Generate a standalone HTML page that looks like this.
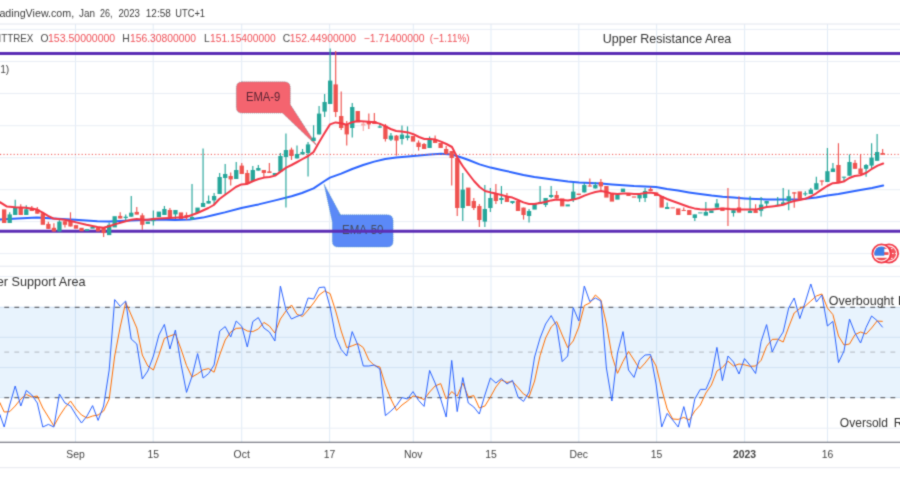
<!DOCTYPE html>
<html><head><meta charset="utf-8"><title>Chart</title>
<style>
html,body{margin:0;padding:0;background:#fff;}
body{width:900px;height:500px;overflow:hidden;font-family:"Liberation Sans",sans-serif;}
svg{display:block;}
text{font-family:"Liberation Sans",sans-serif;}
</style></head><body>
<svg width="900" height="500" viewBox="0 0 900 500">
<defs><filter id="bl" color-interpolation-filters="sRGB" x="0" y="0" width="900" height="500" filterUnits="userSpaceOnUse"><feConvolveMatrix order="3" kernelMatrix="0.03 0.1 0.03 0.1 0.48 0.1 0.03 0.1 0.03" divisor="1" edgeMode="duplicate" preserveAlpha="true"/></filter></defs>
<g filter="url(#bl)">
<rect x="0" y="0" width="900" height="500" fill="#ffffff"/>

<rect x="0" y="307.3" width="900" height="90.3" fill="#e8f3fd"/>
<g stroke="#7aa8d6" stroke-opacity="0.23" stroke-width="1" fill="none">
<line x1="75.5" y1="24" x2="75.5" y2="442"/>
<line x1="153.2" y1="24" x2="153.2" y2="442"/>
<line x1="241.7" y1="24" x2="241.7" y2="442"/>
<line x1="329.6" y1="24" x2="329.6" y2="442"/>
<line x1="413.3" y1="24" x2="413.3" y2="442"/>
<line x1="491" y1="24" x2="491" y2="442"/>
<line x1="578.8" y1="24" x2="578.8" y2="442"/>
<line x1="656.6" y1="24" x2="656.6" y2="442"/>
<line x1="744.6" y1="24" x2="744.6" y2="442"/>
<line x1="827.5" y1="24" x2="827.5" y2="442"/>
</g>
<g stroke="#e9eef5" stroke-width="1" fill="none">
<line x1="0" y1="29.4" x2="900" y2="29.4"/>
<line x1="0" y1="61.5" x2="900" y2="61.5"/>
<line x1="0" y1="93.5" x2="900" y2="93.5"/>
<line x1="0" y1="125.7" x2="900" y2="125.7"/>
<line x1="0" y1="157.7" x2="900" y2="157.7"/>
<line x1="0" y1="189.7" x2="900" y2="189.7"/>
<line x1="0" y1="221.6" x2="900" y2="221.6"/>
<line x1="0" y1="253.6" x2="900" y2="253.6"/>
</g>
<g stroke="#d3e4f4" stroke-width="1" fill="none">
<line x1="0" y1="276.6" x2="900" y2="276.6" stroke="#e9eef5"/>
<line x1="0" y1="307.3" x2="900" y2="307.3" stroke="#d0e2f3"/>
<line x1="0" y1="337.3" x2="900" y2="337.3" stroke="#d0e2f3"/>
<line x1="0" y1="367.6" x2="900" y2="367.6" stroke="#d0e2f3"/>
<line x1="0" y1="397.6" x2="900" y2="397.6" stroke="#d0e2f3"/>
<line x1="0" y1="428.2" x2="900" y2="428.2" stroke="#e9eef5"/>
</g>
<line x1="0" y1="24" x2="900" y2="24" stroke="#e3e6ee" stroke-width="1"/>
<line x1="0" y1="266.2" x2="900" y2="266.2" stroke="#e3e6ee" stroke-width="1"/>
<line x1="0" y1="467.7" x2="900" y2="467.7" stroke="#e6e8ee" stroke-width="1"/>
<line x1="0" y1="442.3" x2="900" y2="442.3" stroke="#5a5d68" stroke-width="1.1"/>
<line x1="4.3" y1="307.3" x2="900" y2="307.3" stroke="#666a72" stroke-width="1.2" stroke-dasharray="4.8 5.27"/>
<line x1="4.3" y1="397.6" x2="900" y2="397.6" stroke="#666a72" stroke-width="1.2" stroke-dasharray="4.8 5.27"/>
<line x1="4.3" y1="352.2" x2="900" y2="352.2" stroke="#bcc3cc" stroke-width="1.2" stroke-dasharray="4.8 5.27"/>
<path d="M338,214.8 L387.1,214.8 Q393.1,214.8 393.1,220.8 L393.1,241 Q393.1,247 387.1,247 L338.3,247 Q332.3,247 332.3,241 L332.3,222 L324,184 L340.5,214.8 Z" fill="#5b89f7" stroke="#4f9bb0" stroke-width="0.6" stroke-dasharray="1 1"/>
<text x="342" y="234.3" font-size="12.3" fill="#454b5e" textLength="41.5" lengthAdjust="spacingAndGlyphs">EMA-50</text>
<path d="M242.3,81.8 L284.3,81.8 Q290.3,81.8 290.3,87.8 L290.3,104.5 L317.5,146.5 L282.5,113.1 L242.3,113.1 Q236.3,113.1 236.3,107.1 L236.3,87.8 Q236.3,81.8 242.3,81.8 Z" fill="#f4646f" stroke="#5f8f99" stroke-width="0.6" stroke-dasharray="1 1"/>
<text x="246" y="101.2" font-size="12.3" fill="#5b2433" textLength="34.3" lengthAdjust="spacingAndGlyphs">EMA-9</text>
<line x1="0" y1="53.5" x2="900" y2="53.5" stroke="#5b2db5" stroke-width="3"/>
<line x1="0" y1="231.3" x2="900" y2="231.3" stroke="#5b2db5" stroke-width="3"/>
<path d="M-2.0,219.4 L0.0,219.4 L17.8,218.5 L37.0,217.6 L53.3,218.5 L75.2,219.8 L97.4,221.2 L109.0,221.6 L125.7,220.8 L142.0,220.0 L158.0,219.6 L175.0,220.0 L190.0,219.6 L202.8,217.6 L213.8,215.0 L224.8,212.4 L241.4,208.0 L258.6,204.4 L275.2,200.4 L291.6,196.2 L302.0,193.0 L313.6,188.4 L324.6,181.0 L330.0,177.6 L341.2,173.6 L352.2,169.0 L363.2,165.0 L374.2,161.6 L385.2,159.0 L396.2,157.6 L408.0,156.4 L419.0,155.6 L430.0,154.4 L441.0,153.8 L452.0,154.6 L457.6,156.2 L463.0,158.0 L468.6,160.0 L479.6,164.4 L490.6,167.6 L501.4,170.0 L512.4,172.4 L523.4,175.0 L534.4,177.0 L545.4,178.4 L556.4,180.0 L568.0,181.6 L579.0,182.6 L590.0,183.0 L601.0,183.4 L612.0,184.4 L623.0,185.2 L634.0,186.0 L645.0,186.4 L656.0,187.0 L667.0,189.0 L678.0,190.6 L689.0,192.4 L700.0,194.0 L711.6,195.6 L722.6,196.8 L733.6,197.6 L744.6,198.4 L755.6,199.0 L766.6,199.4 L777.6,199.6 L788.8,199.5 L799.6,199.2 L805.0,198.8 L816.3,197.6 L827.2,195.5 L838.4,194.0 L849.3,192.0 L860.3,190.0 L872.0,188.0 L883.2,185.6" fill="none" stroke="#2962ff" stroke-width="2" stroke-linejoin="round" stroke-linecap="round"/>
<line x1="0" y1="154.4" x2="900" y2="154.4" stroke="#ef5350" stroke-width="1" stroke-dasharray="1.2 2.2"/>
<g>
<rect x="2.02" y="209.3" width="4.3" height="13.70" fill="#ef5350"/>
<line x1="9.70" y1="212.3" x2="9.70" y2="223" stroke="#26a69a" stroke-width="1.15"/>
<rect x="7.55" y="214.4" width="4.3" height="8.60" fill="#26a69a"/>
<line x1="15.22" y1="199.8" x2="15.22" y2="215" stroke="#26a69a" stroke-width="1.15"/>
<rect x="13.07" y="207.8" width="4.3" height="7.20" fill="#26a69a"/>
<line x1="20.75" y1="204.3" x2="20.75" y2="215" stroke="#ef5350" stroke-width="1.15"/>
<rect x="18.60" y="207.3" width="4.3" height="7.70" fill="#ef5350"/>
<line x1="26.27" y1="205.2" x2="26.27" y2="215" stroke="#26a69a" stroke-width="1.15"/>
<rect x="24.12" y="209.3" width="4.3" height="5.70" fill="#26a69a"/>
<line x1="31.80" y1="206" x2="31.80" y2="211" stroke="#ef5350" stroke-width="1.15"/>
<rect x="29.65" y="207.8" width="4.3" height="3.20" fill="#ef5350"/>
<line x1="37.32" y1="207" x2="37.32" y2="213.7" stroke="#ef5350" stroke-width="1.15"/>
<rect x="35.17" y="209.3" width="4.3" height="4.40" fill="#ef5350"/>
<rect x="40.70" y="213.2" width="4.3" height="11.60" fill="#ef5350"/>
<line x1="48.38" y1="221.7" x2="48.38" y2="228.9" stroke="#ef5350" stroke-width="1.15"/>
<rect x="46.23" y="223.9" width="4.3" height="5.00" fill="#ef5350"/>
<line x1="53.90" y1="223.3" x2="53.90" y2="231.5" stroke="#ef5350" stroke-width="1.15"/>
<rect x="51.75" y="227.8" width="4.3" height="3.70" fill="#ef5350"/>
<line x1="59.42" y1="220.3" x2="59.42" y2="231.5" stroke="#26a69a" stroke-width="1.15"/>
<rect x="57.27" y="221.6" width="4.3" height="9.90" fill="#26a69a"/>
<line x1="64.95" y1="221.2" x2="64.95" y2="227.4" stroke="#ef5350" stroke-width="1.15"/>
<rect x="62.80" y="221.2" width="4.3" height="3.60" fill="#ef5350"/>
<line x1="70.47" y1="212.3" x2="70.47" y2="226.5" stroke="#ef5350" stroke-width="1.15"/>
<rect x="68.32" y="220.8" width="4.3" height="5.70" fill="#ef5350"/>
<rect x="73.85" y="225.1" width="4.3" height="3.60" fill="#ef5350"/>
<rect x="79.38" y="227.8" width="4.3" height="3.40" fill="#ef5350"/>
<rect x="84.90" y="229.2" width="4.3" height="1.80" fill="#26a69a"/>
<rect x="90.42" y="226.9" width="4.3" height="1.80" fill="#26a69a"/>
<rect x="95.95" y="227.8" width="4.3" height="3.70" fill="#ef5350"/>
<line x1="103.62" y1="227.8" x2="103.62" y2="236.9" stroke="#ef5350" stroke-width="1.15"/>
<rect x="101.47" y="227.8" width="4.3" height="5.30" fill="#ef5350"/>
<line x1="109.15" y1="222.6" x2="109.15" y2="235.1" stroke="#26a69a" stroke-width="1.15"/>
<rect x="107.00" y="224.8" width="4.3" height="10.30" fill="#26a69a"/>
<rect x="112.53" y="216.2" width="4.3" height="11.20" fill="#26a69a"/>
<line x1="120.20" y1="212.3" x2="120.20" y2="218.5" stroke="#ef5350" stroke-width="1.15"/>
<rect x="118.05" y="215.9" width="4.3" height="2.60" fill="#ef5350"/>
<line x1="125.72" y1="214.4" x2="125.72" y2="220.3" stroke="#26a69a" stroke-width="1.15"/>
<rect x="123.57" y="216.7" width="4.3" height="1.30" fill="#26a69a"/>
<line x1="131.25" y1="195.9" x2="131.25" y2="216.7" stroke="#26a69a" stroke-width="1.15"/>
<rect x="129.10" y="212.7" width="4.3" height="4.00" fill="#26a69a"/>
<line x1="136.78" y1="207" x2="136.78" y2="214.6" stroke="#ef5350" stroke-width="1.15"/>
<rect x="134.62" y="211.9" width="4.3" height="2.70" fill="#ef5350"/>
<line x1="142.30" y1="213.2" x2="142.30" y2="229.7" stroke="#ef5350" stroke-width="1.15"/>
<rect x="140.15" y="215.3" width="4.3" height="9.50" fill="#ef5350"/>
<rect x="145.67" y="221.6" width="4.3" height="2.30" fill="#26a69a"/>
<line x1="153.35" y1="210.5" x2="153.35" y2="225.6" stroke="#26a69a" stroke-width="1.15"/>
<rect x="151.20" y="218.2" width="4.3" height="3.00" fill="#26a69a"/>
<rect x="156.72" y="211.6" width="4.3" height="5.40" fill="#26a69a"/>
<line x1="164.40" y1="206" x2="164.40" y2="215" stroke="#26a69a" stroke-width="1.15"/>
<rect x="162.25" y="209" width="4.3" height="6.00" fill="#26a69a"/>
<line x1="169.93" y1="208" x2="169.93" y2="217" stroke="#ef5350" stroke-width="1.15"/>
<rect x="167.78" y="210" width="4.3" height="7.00" fill="#ef5350"/>
<line x1="175.45" y1="210" x2="175.45" y2="219" stroke="#26a69a" stroke-width="1.15"/>
<rect x="173.30" y="210" width="4.3" height="4.40" fill="#26a69a"/>
<rect x="178.83" y="212.4" width="4.3" height="6.60" fill="#ef5350"/>
<line x1="186.50" y1="212.4" x2="186.50" y2="220" stroke="#ef5350" stroke-width="1.15"/>
<rect x="184.35" y="215" width="4.3" height="2.00" fill="#ef5350"/>
<line x1="192.03" y1="184" x2="192.03" y2="219.6" stroke="#26a69a" stroke-width="1.15"/>
<rect x="189.88" y="217" width="4.3" height="2.60" fill="#26a69a"/>
<rect x="195.40" y="207.6" width="4.3" height="5.40" fill="#26a69a"/>
<line x1="203.07" y1="148.4" x2="203.07" y2="207" stroke="#26a69a" stroke-width="1.15"/>
<rect x="200.92" y="203" width="4.3" height="4.00" fill="#26a69a"/>
<line x1="208.60" y1="195.6" x2="208.60" y2="203.6" stroke="#26a69a" stroke-width="1.15"/>
<rect x="206.45" y="201" width="4.3" height="2.60" fill="#26a69a"/>
<line x1="214.12" y1="193" x2="214.12" y2="205" stroke="#26a69a" stroke-width="1.15"/>
<rect x="211.97" y="196" width="4.3" height="4.40" fill="#26a69a"/>
<line x1="219.65" y1="173" x2="219.65" y2="194" stroke="#26a69a" stroke-width="1.15"/>
<rect x="217.50" y="177" width="4.3" height="17.00" fill="#26a69a"/>
<line x1="225.18" y1="164" x2="225.18" y2="194" stroke="#26a69a" stroke-width="1.15"/>
<rect x="223.03" y="174" width="4.3" height="4.00" fill="#26a69a"/>
<line x1="230.70" y1="172.4" x2="230.70" y2="185.6" stroke="#ef5350" stroke-width="1.15"/>
<rect x="228.55" y="176" width="4.3" height="3.40" fill="#ef5350"/>
<line x1="236.23" y1="162" x2="236.23" y2="179" stroke="#26a69a" stroke-width="1.15"/>
<rect x="234.08" y="170" width="4.3" height="9.00" fill="#26a69a"/>
<line x1="241.75" y1="163" x2="241.75" y2="174" stroke="#ef5350" stroke-width="1.15"/>
<rect x="239.60" y="165.6" width="4.3" height="8.40" fill="#ef5350"/>
<line x1="247.28" y1="170" x2="247.28" y2="184" stroke="#ef5350" stroke-width="1.15"/>
<rect x="245.12" y="173" width="4.3" height="11.00" fill="#ef5350"/>
<line x1="252.80" y1="166" x2="252.80" y2="181" stroke="#26a69a" stroke-width="1.15"/>
<rect x="250.65" y="170" width="4.3" height="11.00" fill="#26a69a"/>
<line x1="258.33" y1="165" x2="258.33" y2="170.6" stroke="#26a69a" stroke-width="1.15"/>
<rect x="256.18" y="168" width="4.3" height="2.60" fill="#26a69a"/>
<line x1="263.85" y1="170" x2="263.85" y2="177" stroke="#ef5350" stroke-width="1.15"/>
<rect x="261.70" y="170" width="4.3" height="3.00" fill="#ef5350"/>
<line x1="269.38" y1="163" x2="269.38" y2="173" stroke="#ef5350" stroke-width="1.15"/>
<rect x="267.23" y="171.4" width="4.3" height="1.60" fill="#ef5350"/>
<rect x="272.75" y="173" width="4.3" height="2.00" fill="#26a69a"/>
<line x1="280.43" y1="153" x2="280.43" y2="171.6" stroke="#26a69a" stroke-width="1.15"/>
<rect x="278.28" y="156" width="4.3" height="15.60" fill="#26a69a"/>
<line x1="285.95" y1="133.6" x2="285.95" y2="207.6" stroke="#26a69a" stroke-width="1.15"/>
<rect x="283.80" y="150" width="4.3" height="7.00" fill="#26a69a"/>
<line x1="291.48" y1="147.6" x2="291.48" y2="160" stroke="#ef5350" stroke-width="1.15"/>
<rect x="289.33" y="149.6" width="4.3" height="6.40" fill="#ef5350"/>
<line x1="297.00" y1="145.6" x2="297.00" y2="158.4" stroke="#26a69a" stroke-width="1.15"/>
<rect x="294.85" y="154" width="4.3" height="4.40" fill="#26a69a"/>
<line x1="302.52" y1="149" x2="302.52" y2="154.4" stroke="#26a69a" stroke-width="1.15"/>
<rect x="300.38" y="152" width="4.3" height="2.40" fill="#26a69a"/>
<line x1="308.05" y1="142" x2="308.05" y2="176.4" stroke="#26a69a" stroke-width="1.15"/>
<rect x="305.90" y="144.4" width="4.3" height="8.60" fill="#26a69a"/>
<line x1="313.58" y1="125.3" x2="313.58" y2="141" stroke="#26a69a" stroke-width="1.15"/>
<rect x="311.43" y="137.6" width="4.3" height="3.40" fill="#26a69a"/>
<line x1="319.10" y1="106" x2="319.10" y2="134.4" stroke="#26a69a" stroke-width="1.15"/>
<rect x="316.95" y="113.6" width="4.3" height="20.80" fill="#26a69a"/>
<line x1="324.62" y1="94" x2="324.62" y2="117" stroke="#26a69a" stroke-width="1.15"/>
<rect x="322.48" y="102" width="4.3" height="9.60" fill="#26a69a"/>
<line x1="330.15" y1="48.4" x2="330.15" y2="104" stroke="#26a69a" stroke-width="1.15"/>
<rect x="328.00" y="80.6" width="4.3" height="23.40" fill="#26a69a"/>
<line x1="335.68" y1="51" x2="335.68" y2="117" stroke="#ef5350" stroke-width="1.15"/>
<rect x="333.53" y="84.4" width="4.3" height="27.60" fill="#ef5350"/>
<line x1="341.20" y1="91.6" x2="341.20" y2="130" stroke="#ef5350" stroke-width="1.15"/>
<rect x="339.05" y="116" width="4.3" height="12.00" fill="#ef5350"/>
<line x1="346.73" y1="121" x2="346.73" y2="145.6" stroke="#ef5350" stroke-width="1.15"/>
<rect x="344.58" y="125" width="4.3" height="9.40" fill="#ef5350"/>
<line x1="352.25" y1="103" x2="352.25" y2="137.6" stroke="#26a69a" stroke-width="1.15"/>
<rect x="350.10" y="107" width="4.3" height="21.00" fill="#26a69a"/>
<rect x="355.63" y="111" width="4.3" height="11.40" fill="#ef5350"/>
<line x1="363.30" y1="122" x2="363.30" y2="131" stroke="#f7a9a7" stroke-width="1.15"/>
<rect x="361.15" y="123.6" width="4.3" height="2.00" fill="#f7a9a7"/>
<line x1="368.83" y1="113.6" x2="368.83" y2="129" stroke="#ef5350" stroke-width="1.15"/>
<rect x="366.68" y="122" width="4.3" height="2.40" fill="#ef5350"/>
<line x1="374.35" y1="113" x2="374.35" y2="124" stroke="#ef5350" stroke-width="1.15"/>
<rect x="372.20" y="121" width="4.3" height="3.00" fill="#ef5350"/>
<line x1="379.88" y1="124" x2="379.88" y2="128" stroke="#26a69a" stroke-width="1.15"/>
<rect x="377.73" y="126.4" width="4.3" height="1.20" fill="#26a69a"/>
<line x1="385.40" y1="124" x2="385.40" y2="141.6" stroke="#ef5350" stroke-width="1.15"/>
<rect x="383.25" y="125.6" width="4.3" height="13.40" fill="#ef5350"/>
<line x1="390.93" y1="133" x2="390.93" y2="141" stroke="#26a69a" stroke-width="1.15"/>
<rect x="388.78" y="135.6" width="4.3" height="4.00" fill="#26a69a"/>
<line x1="396.45" y1="135" x2="396.45" y2="155.6" stroke="#ef5350" stroke-width="1.15"/>
<rect x="394.30" y="135.6" width="4.3" height="5.00" fill="#ef5350"/>
<line x1="401.98" y1="125.6" x2="401.98" y2="144.4" stroke="#26a69a" stroke-width="1.15"/>
<rect x="399.83" y="134.6" width="4.3" height="4.40" fill="#26a69a"/>
<line x1="407.50" y1="126.4" x2="407.50" y2="140.4" stroke="#26a69a" stroke-width="1.15"/>
<rect x="405.35" y="135.6" width="4.3" height="2.40" fill="#26a69a"/>
<rect x="410.88" y="136" width="4.3" height="5.60" fill="#ef5350"/>
<line x1="418.55" y1="140.4" x2="418.55" y2="150.6" stroke="#ef5350" stroke-width="1.15"/>
<rect x="416.40" y="142.6" width="4.3" height="4.40" fill="#ef5350"/>
<line x1="424.08" y1="143" x2="424.08" y2="149" stroke="#ef5350" stroke-width="1.15"/>
<rect x="421.93" y="144" width="4.3" height="5.00" fill="#ef5350"/>
<line x1="429.60" y1="136.4" x2="429.60" y2="148" stroke="#26a69a" stroke-width="1.15"/>
<rect x="427.45" y="139.6" width="4.3" height="8.40" fill="#26a69a"/>
<line x1="435.12" y1="135.6" x2="435.12" y2="143" stroke="#ef5350" stroke-width="1.15"/>
<rect x="432.98" y="139.6" width="4.3" height="3.40" fill="#ef5350"/>
<rect x="438.50" y="143" width="4.3" height="5.00" fill="#ef5350"/>
<line x1="446.18" y1="146" x2="446.18" y2="154" stroke="#ef5350" stroke-width="1.15"/>
<rect x="444.03" y="149" width="4.3" height="5.00" fill="#ef5350"/>
<line x1="451.70" y1="151" x2="451.70" y2="185.6" stroke="#ef5350" stroke-width="1.15"/>
<rect x="449.55" y="151" width="4.3" height="7.00" fill="#ef5350"/>
<line x1="457.23" y1="158" x2="457.23" y2="216" stroke="#ef5350" stroke-width="1.15"/>
<rect x="455.08" y="158" width="4.3" height="50.00" fill="#ef5350"/>
<line x1="462.75" y1="173" x2="462.75" y2="221" stroke="#26a69a" stroke-width="1.15"/>
<rect x="460.60" y="189.6" width="4.3" height="18.40" fill="#26a69a"/>
<rect x="466.13" y="187.6" width="4.3" height="18.40" fill="#ef5350"/>
<line x1="473.80" y1="198" x2="473.80" y2="210" stroke="#ef5350" stroke-width="1.15"/>
<rect x="471.65" y="201" width="4.3" height="7.00" fill="#ef5350"/>
<line x1="479.33" y1="204" x2="479.33" y2="227" stroke="#ef5350" stroke-width="1.15"/>
<rect x="477.18" y="206" width="4.3" height="14.00" fill="#ef5350"/>
<line x1="484.85" y1="185" x2="484.85" y2="227" stroke="#26a69a" stroke-width="1.15"/>
<rect x="482.70" y="209" width="4.3" height="12.60" fill="#26a69a"/>
<line x1="490.38" y1="188" x2="490.38" y2="212" stroke="#26a69a" stroke-width="1.15"/>
<rect x="488.23" y="198" width="4.3" height="10.00" fill="#26a69a"/>
<line x1="495.90" y1="184" x2="495.90" y2="204" stroke="#ef5350" stroke-width="1.15"/>
<rect x="493.75" y="193" width="4.3" height="8.00" fill="#ef5350"/>
<line x1="501.43" y1="186" x2="501.43" y2="204" stroke="#26a69a" stroke-width="1.15"/>
<rect x="499.28" y="198" width="4.3" height="2.00" fill="#26a69a"/>
<line x1="506.95" y1="193" x2="506.95" y2="202" stroke="#ef5350" stroke-width="1.15"/>
<rect x="504.80" y="196" width="4.3" height="6.00" fill="#ef5350"/>
<line x1="512.48" y1="201" x2="512.48" y2="204" stroke="#26a69a" stroke-width="1.15"/>
<rect x="510.33" y="201" width="4.3" height="2.00" fill="#26a69a"/>
<rect x="515.85" y="201" width="4.3" height="10.00" fill="#ef5350"/>
<line x1="523.53" y1="207.6" x2="523.53" y2="219.6" stroke="#ef5350" stroke-width="1.15"/>
<rect x="521.38" y="207.6" width="4.3" height="7.40" fill="#ef5350"/>
<line x1="529.05" y1="209" x2="529.05" y2="222.4" stroke="#26a69a" stroke-width="1.15"/>
<rect x="526.90" y="211" width="4.3" height="5.00" fill="#26a69a"/>
<rect x="532.43" y="203" width="4.3" height="6.60" fill="#26a69a"/>
<line x1="540.10" y1="186" x2="540.10" y2="204" stroke="#26a69a" stroke-width="1.15"/>
<rect x="537.95" y="202" width="4.3" height="2.00" fill="#26a69a"/>
<line x1="545.62" y1="198" x2="545.62" y2="207" stroke="#26a69a" stroke-width="1.15"/>
<rect x="543.48" y="198" width="4.3" height="7.00" fill="#26a69a"/>
<line x1="551.15" y1="186" x2="551.15" y2="198" stroke="#26a69a" stroke-width="1.15"/>
<rect x="549.00" y="195" width="4.3" height="2.00" fill="#26a69a"/>
<line x1="556.67" y1="191" x2="556.67" y2="198.4" stroke="#ef5350" stroke-width="1.15"/>
<rect x="554.52" y="195" width="4.3" height="3.40" fill="#ef5350"/>
<rect x="560.05" y="198.4" width="4.3" height="8.00" fill="#ef5350"/>
<rect x="565.58" y="204.4" width="4.3" height="2.00" fill="#26a69a"/>
<line x1="573.25" y1="183" x2="573.25" y2="202" stroke="#26a69a" stroke-width="1.15"/>
<rect x="571.10" y="191.6" width="4.3" height="8.40" fill="#26a69a"/>
<rect x="576.63" y="193.6" width="4.3" height="1.40" fill="#ef5350"/>
<line x1="584.30" y1="183" x2="584.30" y2="192.4" stroke="#26a69a" stroke-width="1.15"/>
<rect x="582.15" y="185" width="4.3" height="7.40" fill="#26a69a"/>
<line x1="589.83" y1="178.4" x2="589.83" y2="186.4" stroke="#ef5350" stroke-width="1.15"/>
<rect x="587.68" y="185.5" width="4.3" height="1.00" fill="#ef5350"/>
<line x1="595.35" y1="182" x2="595.35" y2="188.4" stroke="#26a69a" stroke-width="1.15"/>
<rect x="593.20" y="185" width="4.3" height="3.40" fill="#26a69a"/>
<line x1="600.88" y1="179" x2="600.88" y2="190" stroke="#ef5350" stroke-width="1.15"/>
<rect x="598.73" y="182" width="4.3" height="4.40" fill="#ef5350"/>
<rect x="604.25" y="186" width="4.3" height="11.60" fill="#ef5350"/>
<rect x="609.78" y="193" width="4.3" height="8.60" fill="#ef5350"/>
<rect x="615.30" y="194.4" width="4.3" height="5.20" fill="#26a69a"/>
<rect x="620.83" y="188.6" width="4.3" height="3.40" fill="#26a69a"/>
<rect x="626.35" y="193" width="4.3" height="3.00" fill="#ef5350"/>
<rect x="631.88" y="196.4" width="4.3" height="1.20" fill="#ef5350"/>
<line x1="639.55" y1="195" x2="639.55" y2="202" stroke="#26a69a" stroke-width="1.15"/>
<rect x="637.40" y="195" width="4.3" height="3.40" fill="#26a69a"/>
<line x1="645.08" y1="188" x2="645.08" y2="202" stroke="#26a69a" stroke-width="1.15"/>
<rect x="642.93" y="191" width="4.3" height="7.00" fill="#26a69a"/>
<line x1="650.60" y1="187" x2="650.60" y2="191" stroke="#ef5350" stroke-width="1.15"/>
<rect x="648.45" y="189" width="4.3" height="2.00" fill="#ef5350"/>
<rect x="653.98" y="192.4" width="4.3" height="3.60" fill="#ef5350"/>
<rect x="659.50" y="196" width="4.3" height="11.60" fill="#ef5350"/>
<line x1="667.18" y1="202.4" x2="667.18" y2="209" stroke="#26a69a" stroke-width="1.15"/>
<rect x="665.03" y="207" width="4.3" height="2.00" fill="#26a69a"/>
<rect x="670.55" y="207.4" width="4.3" height="1.00" fill="#ef5350"/>
<rect x="676.08" y="208.4" width="4.3" height="6.60" fill="#ef5350"/>
<line x1="683.75" y1="207.6" x2="683.75" y2="211" stroke="#ef5350" stroke-width="1.15"/>
<rect x="681.60" y="210" width="4.3" height="1.00" fill="#ef5350"/>
<rect x="687.13" y="210" width="4.3" height="5.00" fill="#ef5350"/>
<line x1="694.80" y1="214.4" x2="694.80" y2="221" stroke="#26a69a" stroke-width="1.15"/>
<rect x="692.65" y="214.4" width="4.3" height="3.60" fill="#26a69a"/>
<rect x="698.18" y="212.4" width="4.3" height="1.00" fill="#26a69a"/>
<line x1="705.85" y1="202" x2="705.85" y2="215.6" stroke="#26a69a" stroke-width="1.15"/>
<rect x="703.70" y="212" width="4.3" height="3.60" fill="#26a69a"/>
<rect x="709.23" y="210.4" width="4.3" height="2.60" fill="#26a69a"/>
<line x1="716.90" y1="199" x2="716.90" y2="207.6" stroke="#26a69a" stroke-width="1.15"/>
<rect x="714.75" y="203.4" width="4.3" height="4.20" fill="#26a69a"/>
<rect x="720.28" y="207.7" width="4.3" height="3.30" fill="#ef5350"/>
<line x1="727.95" y1="188" x2="727.95" y2="226" stroke="#ef5350" stroke-width="1.15"/>
<rect x="725.80" y="207.8" width="4.3" height="1.00" fill="#ef5350"/>
<line x1="733.48" y1="210.2" x2="733.48" y2="216.6" stroke="#26a69a" stroke-width="1.15"/>
<rect x="731.33" y="210.2" width="4.3" height="2.80" fill="#26a69a"/>
<line x1="739.00" y1="196.2" x2="739.00" y2="212.6" stroke="#ef5350" stroke-width="1.15"/>
<rect x="736.85" y="207.4" width="4.3" height="5.20" fill="#ef5350"/>
<line x1="750.05" y1="196.2" x2="750.05" y2="213" stroke="#26a69a" stroke-width="1.15"/>
<rect x="747.90" y="210.8" width="4.3" height="2.20" fill="#26a69a"/>
<line x1="755.58" y1="204.2" x2="755.58" y2="213" stroke="#ef5350" stroke-width="1.15"/>
<rect x="753.43" y="210.2" width="4.3" height="2.80" fill="#ef5350"/>
<line x1="761.10" y1="197" x2="761.10" y2="216.6" stroke="#26a69a" stroke-width="1.15"/>
<rect x="758.95" y="204.6" width="4.3" height="6.20" fill="#26a69a"/>
<line x1="766.62" y1="201" x2="766.62" y2="206" stroke="#26a69a" stroke-width="1.15"/>
<rect x="764.48" y="201" width="4.3" height="2.60" fill="#26a69a"/>
<line x1="777.68" y1="197" x2="777.68" y2="205.8" stroke="#26a69a" stroke-width="1.15"/>
<rect x="775.53" y="204.6" width="4.3" height="1.20" fill="#26a69a"/>
<line x1="783.20" y1="188" x2="783.20" y2="204.8" stroke="#26a69a" stroke-width="1.15"/>
<rect x="781.05" y="202.4" width="4.3" height="2.40" fill="#26a69a"/>
<line x1="788.73" y1="189.8" x2="788.73" y2="210.2" stroke="#26a69a" stroke-width="1.15"/>
<rect x="786.58" y="196.2" width="4.3" height="5.20" fill="#26a69a"/>
<line x1="794.25" y1="192.3" x2="794.25" y2="207.8" stroke="#ef5350" stroke-width="1.15"/>
<rect x="792.10" y="192.3" width="4.3" height="1.30" fill="#ef5350"/>
<rect x="797.63" y="191.4" width="4.3" height="7.90" fill="#ef5350"/>
<line x1="805.30" y1="191.2" x2="805.30" y2="196" stroke="#26a69a" stroke-width="1.15"/>
<rect x="803.15" y="193.3" width="4.3" height="1.10" fill="#26a69a"/>
<line x1="810.83" y1="188" x2="810.83" y2="194" stroke="#26a69a" stroke-width="1.15"/>
<rect x="808.68" y="189.6" width="4.3" height="4.40" fill="#26a69a"/>
<line x1="816.35" y1="176.8" x2="816.35" y2="189.6" stroke="#26a69a" stroke-width="1.15"/>
<rect x="814.20" y="183.2" width="4.3" height="6.40" fill="#26a69a"/>
<line x1="821.88" y1="180.5" x2="821.88" y2="185.6" stroke="#ef5350" stroke-width="1.15"/>
<rect x="819.73" y="180.5" width="4.3" height="1.10" fill="#ef5350"/>
<line x1="827.40" y1="148" x2="827.40" y2="182" stroke="#26a69a" stroke-width="1.15"/>
<rect x="825.25" y="171.2" width="4.3" height="10.80" fill="#26a69a"/>
<line x1="832.93" y1="162.9" x2="832.93" y2="172" stroke="#26a69a" stroke-width="1.15"/>
<rect x="830.78" y="168.5" width="4.3" height="3.50" fill="#26a69a"/>
<line x1="838.45" y1="143.2" x2="838.45" y2="182.4" stroke="#ef5350" stroke-width="1.15"/>
<rect x="836.30" y="165" width="4.3" height="17.40" fill="#ef5350"/>
<line x1="843.98" y1="176.8" x2="843.98" y2="181.6" stroke="#26a69a" stroke-width="1.15"/>
<rect x="841.83" y="176.7" width="4.3" height="1.00" fill="#26a69a"/>
<line x1="849.50" y1="154.4" x2="849.50" y2="175.7" stroke="#26a69a" stroke-width="1.15"/>
<rect x="847.35" y="162" width="4.3" height="13.70" fill="#26a69a"/>
<line x1="855.03" y1="160" x2="855.03" y2="168.8" stroke="#ef5350" stroke-width="1.15"/>
<rect x="852.88" y="162.9" width="4.3" height="5.90" fill="#ef5350"/>
<line x1="860.55" y1="154" x2="860.55" y2="174" stroke="#ef5350" stroke-width="1.15"/>
<rect x="858.40" y="168.5" width="4.3" height="5.50" fill="#ef5350"/>
<line x1="866.08" y1="164" x2="866.08" y2="176.8" stroke="#26a69a" stroke-width="1.15"/>
<rect x="863.93" y="165" width="4.3" height="3.80" fill="#26a69a"/>
<line x1="871.60" y1="143.2" x2="871.60" y2="168" stroke="#26a69a" stroke-width="1.15"/>
<rect x="869.45" y="157.6" width="4.3" height="8.00" fill="#26a69a"/>
<line x1="877.12" y1="134" x2="877.12" y2="160.8" stroke="#26a69a" stroke-width="1.15"/>
<rect x="874.98" y="152" width="4.3" height="8.80" fill="#26a69a"/>
<line x1="882.65" y1="149" x2="882.65" y2="154.7" stroke="#ef5350" stroke-width="1.15"/>
<rect x="880.50" y="153" width="4.3" height="1.70" fill="#ef5350"/>
</g>
<path d="M-2.0,201.5 L0.0,202.2 L7.0,206.6 L14.9,207.3 L26.1,207.8 L37.0,209.6 L42.3,212.3 L48.0,215.9 L53.3,218.5 L64.4,219.8 L75.2,222.1 L86.4,224.8 L97.4,226.9 L103.5,227.8 L109.0,226.2 L114.7,224.4 L125.7,221.2 L131.2,219.8 L136.7,218.9 L142.0,219.4 L147.6,219.8 L153.2,219.1 L158.2,218.6 L170.0,218.0 L186.4,217.0 L197.4,213.0 L208.4,208.0 L213.8,205.0 L219.4,199.0 L224.8,195.0 L230.4,191.0 L235.8,187.0 L241.4,184.4 L246.8,184.0 L253.2,181.0 L258.6,179.0 L264.2,177.6 L269.6,177.0 L275.2,175.6 L280.6,171.6 L286.2,167.6 L291.6,165.0 L297.2,162.0 L302.6,159.0 L308.2,156.0 L313.6,152.0 L319.2,142.0 L324.6,133.0 L330.0,124.4 L335.6,122.4 L341.2,123.3 L346.6,124.7 L352.2,122.2 L357.6,121.0 L368.6,121.8 L374.2,122.2 L379.6,123.6 L385.2,126.2 L390.6,129.0 L396.2,131.0 L401.6,131.6 L408.0,132.4 L413.4,134.2 L419.0,137.0 L424.4,139.0 L430.0,139.0 L435.6,139.6 L441.0,141.6 L446.4,144.0 L452.0,147.0 L455.0,153.0 L457.6,158.0 L463.0,166.5 L468.6,174.0 L474.0,181.0 L479.6,187.0 L485.0,191.0 L490.6,192.4 L496.0,193.6 L501.4,195.0 L507.0,196.4 L512.4,197.6 L518.0,200.0 L523.4,202.4 L529.0,204.0 L534.4,204.0 L540.0,203.0 L545.4,202.0 L551.0,200.4 L556.4,199.6 L562.0,200.0 L568.0,200.4 L573.4,199.6 L579.0,198.0 L584.4,195.6 L590.0,193.6 L595.4,192.0 L601.0,191.0 L606.4,192.0 L612.0,193.6 L617.6,194.0 L623.0,193.4 L628.6,193.6 L634.0,194.0 L639.6,194.0 L645.0,193.0 L650.6,192.4 L656.0,193.6 L661.4,196.4 L667.0,199.0 L672.4,201.0 L678.0,203.0 L683.4,205.0 L689.0,207.0 L694.4,208.4 L700.0,209.2 L705.4,209.6 L711.6,209.6 L717.0,209.0 L722.6,208.6 L728.2,209.0 L733.6,209.2 L739.2,209.4 L745.0,209.5 L750.0,209.6 L755.6,209.6 L761.4,208.2 L766.8,207.0 L772.0,206.4 L777.8,205.8 L783.2,204.8 L788.8,202.6 L794.2,201.0 L799.6,200.0 L805.2,198.8 L810.7,196.5 L816.3,193.3 L821.6,189.6 L827.2,186.0 L832.8,183.2 L838.4,182.7 L843.7,181.6 L849.3,178.0 L854.7,176.0 L860.3,175.2 L866.4,172.8 L872.0,168.8 L877.6,165.6 L883.2,163.5" fill="none" stroke="#f23645" stroke-width="2" stroke-linejoin="round" stroke-linecap="round"/>
<path d="M-1.4,400.0 L4.2,412.0 L9.7,411.6 L15.2,406.0 L20.8,399.0 L26.3,394.4 L31.8,397.0 L37.3,396.0 L42.8,408.0 L48.4,417.0 L53.9,426.0 L59.4,416.0 L65.0,407.6 L70.5,401.0 L76.0,409.0 L81.5,415.0 L87.0,418.0 L92.6,416.0 L98.1,415.0 L103.6,411.0 L109.2,399.0 L114.7,356.0 L120.2,327.0 L125.7,302.4 L131.2,315.0 L136.8,328.0 L142.3,355.0 L147.8,366.0 L153.4,370.0 L158.9,355.0 L164.4,338.4 L169.9,336.0 L175.4,334.0 L181.0,349.0 L186.5,365.5 L192.0,377.0 L197.6,373.8 L203.1,369.8 L208.6,368.6 L214.1,372.2 L219.7,355.0 L225.2,340.0 L230.7,332.0 L236.2,328.4 L241.8,328.0 L247.3,331.0 L252.8,331.6 L258.3,329.0 L263.9,322.4 L269.4,326.0 L274.9,333.0 L280.4,319.0 L286.0,311.0 L291.5,305.0 L297.0,314.4 L302.5,316.4 L308.1,310.0 L313.6,303.0 L319.1,295.0 L324.6,291.0 L330.1,293.6 L335.7,311.0 L341.2,331.0 L346.7,347.6 L352.2,345.8 L357.8,343.6 L363.3,347.6 L368.8,360.0 L374.4,365.6 L379.9,367.0 L385.4,385.0 L390.9,399.0 L396.5,410.4 L402.0,405.0 L407.5,401.0 L413.0,396.0 L418.6,397.0 L424.1,399.6 L429.6,392.0 L435.1,386.0 L440.7,383.6 L446.2,399.0 L451.7,391.6 L457.2,396.0 L462.8,383.0 L468.3,397.0 L473.8,395.6 L479.3,408.0 L484.9,406.0 L490.4,397.0 L495.9,387.0 L501.4,380.0 L507.0,382.4 L512.5,381.5 L518.0,387.5 L523.5,394.0 L529.0,397.0 L534.6,381.0 L540.1,355.5 L545.6,338.0 L551.2,327.0 L556.7,321.6 L562.2,335.0 L567.7,347.6 L573.2,341.0 L578.8,327.0 L584.3,305.6 L589.8,303.0 L595.4,295.0 L600.9,300.0 L606.4,324.0 L611.9,355.5 L617.5,373.3 L623.0,361.5 L628.5,351.5 L634.0,360.0 L639.6,369.0 L645.1,363.0 L650.6,356.0 L656.1,366.0 L661.7,389.0 L667.2,409.0 L672.7,419.0 L678.2,419.4 L683.8,417.4 L689.3,420.0 L694.8,411.0 L700.3,405.0 L705.9,393.0 L711.4,385.0 L716.9,371.0 L722.4,367.5 L728.0,361.2 L733.5,366.0 L739.0,364.0 L744.5,364.8 L750.1,366.3 L755.6,366.0 L761.1,360.3 L766.6,346.3 L772.2,339.4 L777.7,339.2 L783.2,342.0 L788.7,327.0 L794.2,313.0 L799.8,308.6 L805.3,306.0 L810.8,301.0 L816.4,296.0 L821.9,294.0 L827.4,308.0 L832.9,314.6 L838.5,336.0 L844.0,345.0 L849.5,344.0 L855.0,334.6 L860.6,332.0 L866.1,334.0 L871.6,328.0 L877.1,321.0 L882.7,321.4" fill="none" stroke="#ff6d00" stroke-width="1" stroke-linejoin="round"/>
<path d="M-1.4,411.0 L4.2,427.0 L9.7,405.0 L15.2,386.0 L20.8,406.0 L26.3,390.4 L31.8,395.0 L37.3,403.0 L42.8,427.0 L48.4,424.4 L53.9,427.0 L59.4,394.0 L65.0,403.0 L70.5,406.0 L76.0,415.0 L81.5,423.0 L87.0,416.0 L92.6,405.6 L98.1,420.4 L103.6,406.0 L109.2,370.0 L114.7,299.6 L120.2,306.4 L125.7,301.0 L131.2,339.0 L136.8,344.0 L142.3,379.0 L147.8,371.0 L153.4,356.0 L158.9,335.0 L164.4,324.4 L169.9,349.0 L175.4,330.0 L181.0,364.0 L186.5,392.4 L192.0,376.4 L197.6,353.6 L203.1,378.0 L208.6,373.6 L214.1,365.0 L219.7,331.0 L225.2,326.6 L230.7,337.0 L236.2,321.0 L241.8,326.4 L247.3,347.0 L252.8,321.6 L258.3,317.6 L263.9,328.0 L269.4,332.0 L274.9,341.0 L280.4,286.0 L286.0,310.0 L291.5,319.0 L297.0,316.4 L302.5,314.4 L308.1,298.0 L313.6,299.0 L319.1,287.6 L324.6,287.0 L330.1,307.0 L335.7,337.0 L341.2,349.5 L346.7,356.0 L352.2,331.6 L357.8,345.0 L363.3,366.0 L368.8,366.0 L374.4,365.0 L379.9,369.0 L385.4,415.6 L390.9,411.0 L396.5,405.6 L402.0,397.6 L407.5,399.0 L413.0,391.6 L418.6,400.4 L424.1,406.4 L429.6,370.4 L435.1,383.0 L440.7,399.0 L446.2,417.0 L451.7,360.4 L457.2,411.6 L462.8,377.6 L468.3,403.0 L473.8,407.0 L479.3,414.0 L484.9,395.0 L490.4,378.0 L495.9,383.0 L501.4,378.6 L507.0,384.0 L512.5,380.4 L518.0,397.0 L523.5,401.4 L529.0,392.0 L534.6,357.0 L540.1,338.0 L545.6,324.0 L551.2,315.6 L556.7,326.0 L562.2,361.6 L567.7,356.0 L573.2,307.6 L578.8,321.0 L584.3,286.0 L589.8,301.6 L595.4,298.0 L600.9,301.0 L606.4,368.0 L611.9,401.0 L617.5,353.0 L623.0,331.6 L628.5,370.0 L634.0,377.4 L639.6,360.0 L645.1,355.0 L650.6,354.6 L656.1,384.0 L661.7,427.0 L667.2,413.4 L672.7,420.0 L678.2,427.0 L683.8,406.6 L689.3,427.4 L694.8,399.0 L700.3,389.4 L705.9,389.4 L711.4,376.6 L716.9,347.4 L722.4,380.6 L728.0,356.0 L733.5,362.0 L739.0,374.0 L744.5,358.6 L750.1,365.5 L755.6,373.5 L761.1,341.5 L766.6,324.6 L772.2,352.0 L777.7,340.5 L783.2,332.0 L788.7,308.0 L794.2,298.0 L799.8,318.6 L805.3,302.0 L810.8,284.0 L816.4,302.0 L821.9,295.0 L827.4,326.0 L832.9,321.4 L838.5,362.6 L844.0,351.0 L849.5,319.0 L855.0,333.0 L860.6,343.0 L866.1,327.4 L871.6,316.0 L877.1,320.6 L882.7,327.4" fill="none" stroke="#2962ff" stroke-width="1" stroke-linejoin="round"/>
<text x="-0.6" y="17.1" font-size="10.9" fill="#3c3c3c" text-anchor="start" textLength="74.8" lengthAdjust="spacingAndGlyphs">adingView.com,</text>
<text x="79" y="17.1" font-size="10.9" fill="#3c3c3c" text-anchor="start" textLength="16" lengthAdjust="spacingAndGlyphs">Jan</text>
<text x="100" y="17.1" font-size="10.9" fill="#3c3c3c" text-anchor="start" textLength="12.5" lengthAdjust="spacingAndGlyphs">26,</text>
<text x="118.5" y="17.1" font-size="10.9" fill="#3c3c3c" text-anchor="start" textLength="21.5" lengthAdjust="spacingAndGlyphs">2023</text>
<text x="145.8" y="17.1" font-size="10.9" fill="#3c3c3c" text-anchor="start" textLength="25" lengthAdjust="spacingAndGlyphs">12:58</text>
<text x="175.3" y="17.1" font-size="10.9" fill="#3c3c3c" text-anchor="start" textLength="29.7" lengthAdjust="spacingAndGlyphs">UTC+1</text>
<text x="-8" y="41.7" font-size="10.3" fill="#484848" text-anchor="start" textLength="41.3" lengthAdjust="spacingAndGlyphs">BITTREX</text>
<text x="40.5" y="41.7" font-size="10.3" fill="#484848" text-anchor="start">O</text>
<text x="48" y="41.7" font-size="10.3" fill="#ef4f56" text-anchor="start" textLength="67.2" lengthAdjust="spacingAndGlyphs">153.50000000</text>
<text x="122.2" y="41.7" font-size="10.3" fill="#484848" text-anchor="start">H</text>
<text x="130" y="41.7" font-size="10.3" fill="#ef4f56" text-anchor="start" textLength="66" lengthAdjust="spacingAndGlyphs">156.30800000</text>
<text x="204" y="41.7" font-size="10.3" fill="#484848" text-anchor="start">L</text>
<text x="210" y="41.7" font-size="10.3" fill="#ef4f56" text-anchor="start" textLength="65.6" lengthAdjust="spacingAndGlyphs">151.15400000</text>
<text x="282.8" y="41.7" font-size="10.3" fill="#484848" text-anchor="start">C</text>
<text x="289.8" y="41.7" font-size="10.3" fill="#ef4f56" text-anchor="start" textLength="66.1" lengthAdjust="spacingAndGlyphs">152.44900000</text>
<text x="363.8" y="41.7" font-size="10.3" fill="#ef4f56" text-anchor="start" textLength="60.7" lengthAdjust="spacingAndGlyphs">−1.71400000</text>
<text x="429.8" y="41.7" font-size="10.3" fill="#ef4f56" text-anchor="start" textLength="39.7" lengthAdjust="spacingAndGlyphs">(−1.11%)</text>
<text x="602.8" y="42.8" font-size="12.6" fill="#333" text-anchor="start" textLength="128.5" lengthAdjust="spacingAndGlyphs">Upper Resistance Area</text>
<text x="-3.3" y="73" font-size="10.3" fill="#484848" text-anchor="start">(1)</text>
<text x="-26.5" y="286" font-size="13.2" fill="#333" text-anchor="start" textLength="112" lengthAdjust="spacingAndGlyphs">Lower Support Area</text>
<text x="828.8" y="304.5" font-size="12.1" fill="#333" text-anchor="start" textLength="65.2" lengthAdjust="spacingAndGlyphs">Overbought</text>
<text x="898" y="304.5" font-size="12.1" fill="#333" text-anchor="start">Region</text>
<text x="839.8" y="426.5" font-size="12.4" fill="#333" text-anchor="start" textLength="48.2" lengthAdjust="spacingAndGlyphs">Oversold</text>
<text x="893.8" y="426.5" font-size="12.4" fill="#333" text-anchor="start">Region</text>
<text x="75.5" y="458.4" font-size="10.4" fill="#444" text-anchor="middle">Sep</text>
<text x="153.2" y="458.4" font-size="10.4" fill="#444" text-anchor="middle">15</text>
<text x="241.7" y="458.4" font-size="10.4" fill="#444" text-anchor="middle">Oct</text>
<text x="329.6" y="458.4" font-size="10.4" fill="#444" text-anchor="middle">17</text>
<text x="413.3" y="458.4" font-size="10.4" fill="#444" text-anchor="middle">Nov</text>
<text x="491" y="458.4" font-size="10.4" fill="#444" text-anchor="middle">15</text>
<text x="578.8" y="458.4" font-size="10.4" fill="#444" text-anchor="middle">Dec</text>
<text x="656.6" y="458.4" font-size="10.4" fill="#444" text-anchor="middle">15</text>
<text x="744.6" y="458.4" font-size="10.4" fill="#444" text-anchor="middle" font-weight="bold">2023</text>
<text x="827.5" y="458.4" font-size="10.4" fill="#444" text-anchor="middle">16</text>
<g>
<circle cx="889" cy="253.5" r="9.1" fill="#fff" stroke="#f23645" stroke-width="1.7"/>
<clipPath id="fc2"><circle cx="889" cy="253.5" r="7.1"/></clipPath>
<g clip-path="url(#fc2)"><rect x="880" y="244" width="18" height="19" fill="#f4545e"/>
<g stroke="#fff" stroke-width="1" stroke-dasharray="1.6 1.6"><line x1="891" y1="248.6" x2="898" y2="248.6"/><line x1="892" y1="253.5" x2="898" y2="253.5"/><line x1="891" y1="258.4" x2="898" y2="258.4"/></g></g>
<circle cx="881.5" cy="253.5" r="9.1" fill="#fff" stroke="#f23645" stroke-width="1.7"/>
<clipPath id="fc"><circle cx="881.5" cy="253.5" r="7.1"/></clipPath>
<g clip-path="url(#fc)">
<rect x="873" y="245" width="17" height="17" fill="#fff"/>
<rect x="873" y="247" width="17" height="1.9" fill="#ef4a50"/>
<rect x="873" y="252.2" width="17" height="2.7" fill="#ef4a50"/>
<rect x="873" y="257.8" width="17" height="3" fill="#ef4a50"/>
<rect x="873" y="246" width="11.3" height="9.7" fill="#3f7fe8"/>
</g></g>
</g></svg></body></html>
